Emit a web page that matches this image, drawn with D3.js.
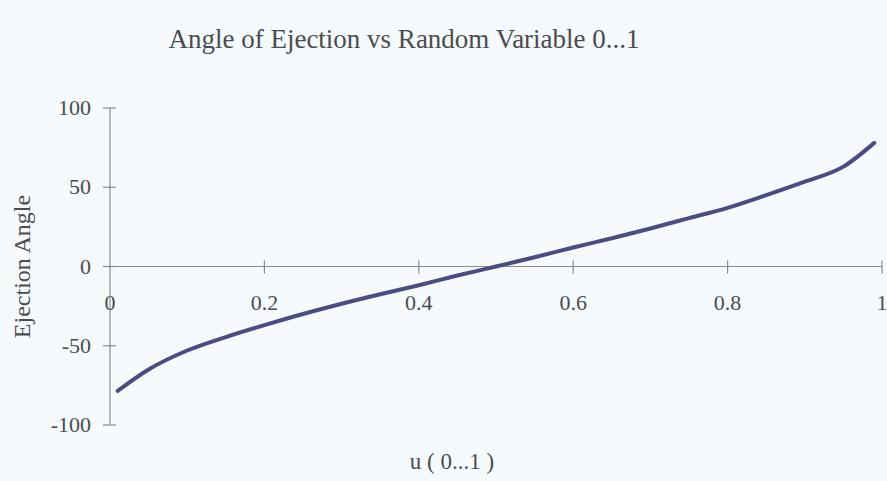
<!DOCTYPE html>
<html>
<head>
<meta charset="utf-8">
<script src="https://cdn.jsdelivr.net/npm/d3@7"></script>
<style>
  html, body { margin: 0; padding: 0; background: #f6fafc; }
  svg { display: block; }
  text { font-family: "Liberation Serif", "Times New Roman", serif; fill: #4a4c50; }
</style>
</head>
<body>
<svg id="chart" width="887" height="481"></svg>
<script>
// Random variable u on [0, 1]
const uValues = [0.01, 0.05, 0.1, 0.15, 0.2, 0.25, 0.3, 0.35, 0.4, 0.45, 0.5,
                 0.55, 0.6, 0.65, 0.7, 0.75, 0.8, 0.85, 0.9, 0.95, 0.99];
// Ejection angle in degrees for each u
const angleValues = [-78.5, -65, -53, -44.5, -37, -30, -23.5, -17.5, -11.8, -5.7, 0,
                     5.8, 12, 17.8, 24, 30.5, 37, 45, 53.5, 63, 78];
const xTicks = [0, 0.2, 0.4, 0.6, 0.8, 1];
const yTicks = [-100, -50, 0, 50, 100];

const svg = d3.select("#chart");
const axisColor = "#8a8c90";

const x = d3.scaleLinear().domain([0, 1]).range([110, 882]);
const y = d3.scaleLinear().domain([-100, 100]).range([425, 108]);

// Title
svg.append("text")
  .attr("x", 404).attr("y", 48)
  .attr("text-anchor", "middle")
  .attr("font-size", 27)
  .text("Angle of Ejection vs Random Variable 0...1");

// Y axis: vertical line through x = 0 with crossing ticks
const yAxis = svg.append("g");
yAxis.append("line")
  .attr("x1", x(0)).attr("x2", x(0))
  .attr("y1", y(100)).attr("y2", y(-100))
  .attr("stroke", axisColor).attr("stroke-width", 1.2);
yAxis.selectAll("line.tick").data(yTicks).join("line")
  .attr("class", "tick")
  .attr("x1", x(0) - 7).attr("x2", x(0) + 6)
  .attr("y1", d => y(d)).attr("y2", d => y(d))
  .attr("stroke", axisColor).attr("stroke-width", 1.2);
yAxis.selectAll("text").data(yTicks).join("text")
  .attr("x", x(0) - 19).attr("y", d => y(d) + 7)
  .attr("text-anchor", "end")
  .attr("font-size", 22)
  .text(d => d);

// X axis: horizontal line at angle 0 with crossing ticks
const xAxis = svg.append("g");
xAxis.append("line")
  .attr("x1", x(0)).attr("x2", x(1))
  .attr("y1", y(0)).attr("y2", y(0))
  .attr("stroke", axisColor).attr("stroke-width", 1.2);
xAxis.selectAll("line.tick").data(xTicks.filter(d => d > 0)).join("line")
  .attr("class", "tick")
  .attr("x1", d => x(d)).attr("x2", d => x(d))
  .attr("y1", y(0) - 6).attr("y2", y(0) + 7)
  .attr("stroke", axisColor).attr("stroke-width", 1.2);
xAxis.selectAll("text").data(xTicks).join("text")
  .attr("x", d => x(d)).attr("y", y(0) + 43)
  .attr("text-anchor", "middle")
  .attr("font-size", 22)
  .text(d => d);

// Axis titles
svg.append("text")
  .attr("transform", `translate(30, ${(y(100) + y(-100)) / 2}) rotate(-90)`)
  .attr("text-anchor", "middle")
  .attr("font-size", 24)
  .text("Ejection Angle");

svg.append("text")
  .attr("x", 452).attr("y", 469)
  .attr("text-anchor", "middle")
  .attr("font-size", 23)
  .text("u ( 0...1 )");

// Curve
const line = d3.line()
  .x((d, i) => x(uValues[i]))
  .y(d => y(d))
  .curve(d3.curveMonotoneX);

svg.append("path")
  .datum(angleValues)
  .attr("d", line)
  .attr("fill", "none")
  .attr("stroke", "#4b4c82")
  .attr("stroke-width", 4)
  .attr("stroke-linecap", "round")
  .attr("stroke-linejoin", "round");
</script>
</body>
</html>
